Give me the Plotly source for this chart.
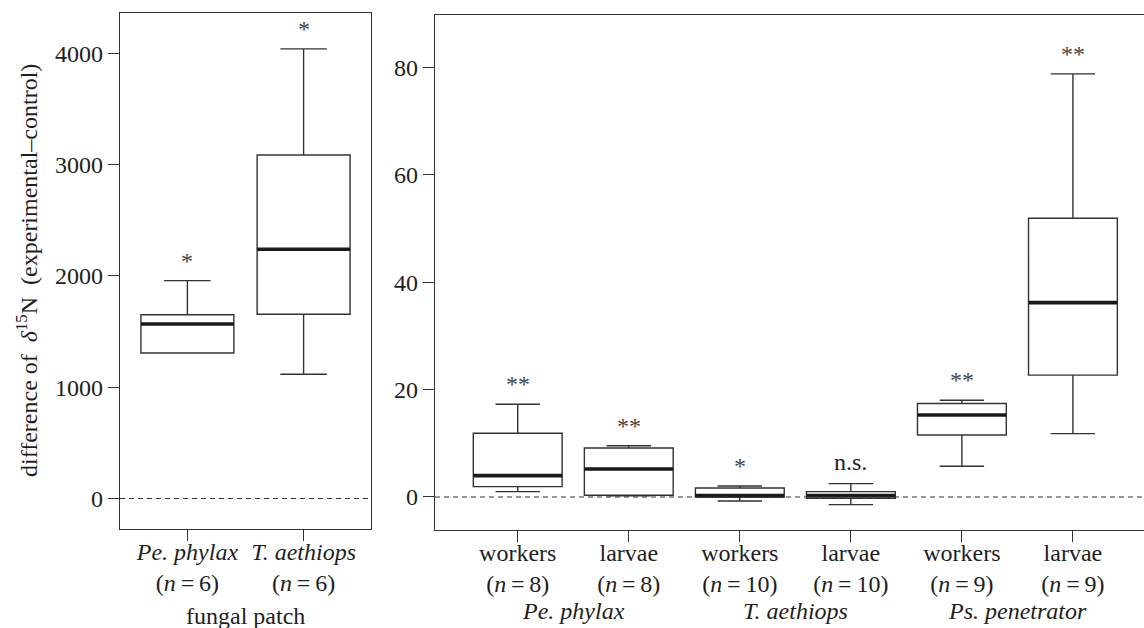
import plotly.graph_objects as go

# ---------------- data ----------------
fungal_species = ["Pe. phylax", "T. aethiops"]
fungal_n = [6, 6]
fungal_lower = [1307, 1116]
fungal_q1 = [1307, 1655]
fungal_median = [1568, 2239]
fungal_q3 = [1651, 3086]
fungal_upper = [1957, 4039]
fungal_sig = ["*", "*"]

ant_caste = ["workers", "larvae", "workers", "larvae", "workers", "larvae"]
ant_species = ["Pe. phylax", "T. aethiops", "Ps. penetrator"]
ant_n = [8, 8, 10, 10, 9, 9]
ant_lower = [0.99, 0.20, -0.74, -1.43, 5.71, 11.8]
ant_q1 = [1.92, 0.32, 0.00, -0.25, 11.55, 22.7]
ant_median = [3.97, 5.21, 0.25, 0.25, 15.27, 36.2]
ant_q3 = [11.86, 9.12, 1.68, 0.99, 17.40, 51.9]
ant_upper = [17.26, 9.55, 2.05, 2.48, 18.00, 78.8]
ant_sig = ["**", "**", "*", "n.s.", "**", "**"]

left_yticks = [0, 1000, 2000, 3000, 4000]
right_yticks = [0, 20, 40, 60, 80]

# ---------------- style ----------------
FONT = "Liberation Serif, Times New Roman, serif"
FS = 24
LINE = "#333333"
TXT = "#1e1e1e"
BOXW = 0.8
W, H = 1144, 628

fig = go.Figure()


def add_boxes(xref, yref, q1, med, q3, lo, hi):
    pos = list(range(1, len(q1) + 1))
    for i, p in enumerate(pos):
        fig.add_trace(go.Box(
            x=[p], q1=[q1[i]], median=[med[i]], q3=[q3[i]],
            lowerfence=[lo[i]], upperfence=[hi[i]],
            width=BOXW, whiskerwidth=0.5,
            fillcolor="white", line=dict(color=LINE, width=1.4),
            boxpoints=False, hoverinfo="skip", showlegend=False,
            xaxis=xref, yaxis=yref,
        ))
        # thick median bar
        fig.add_trace(go.Scatter(
            x=[p - BOXW / 2, p + BOXW / 2], y=[med[i], med[i]],
            mode="lines", line=dict(color="#1a1a1a", width=3.6),
            hoverinfo="skip", showlegend=False, xaxis=xref, yaxis=yref,
        ))


add_boxes("x", "y", fungal_q1, fungal_median, fungal_q3, fungal_lower, fungal_upper)
add_boxes("x2", "y2", ant_q1, ant_median, ant_q3, ant_lower, ant_upper)

# ---------------- axes ----------------
def px_x(a, b):
    return [a / W, min(b / W, 1.0)]


def px_y(top, bottom):
    return [1 - bottom / H, 1 - top / H]


axis_common = dict(
    showgrid=False, zeroline=False, showline=True, linecolor=LINE, linewidth=1.3,
    ticks="outside", ticklen=11, tickwidth=1.3, tickcolor=LINE, automargin=False,
    tickfont=dict(family=FONT, size=FS, color=TXT),
)

fungal_ticktext = [f"<i>{s}</i><br>(<i>n</i>\u2009=\u2009{n})" for s, n in zip(fungal_species, fungal_n)]
ant_ticktext = [f"{c}<br>(<i>n</i>\u2009=\u2009{n})" for c, n in zip(ant_caste, ant_n)]

fig.update_layout(
    xaxis=dict(domain=px_x(120, 371), range=[0.42, 2.58], ticklabelstandoff=-10,
               tickvals=[1, 2], ticktext=fungal_ticktext, mirror=True, anchor="y", **axis_common),
    yaxis=dict(domain=px_y(13.3, 529), range=[-274, 4359],
               tickvals=left_yticks, mirror=True, anchor="x", **axis_common),
    xaxis2=dict(domain=px_x(435, 1144), range=[0.255, 6.64], ticklabelstandoff=-10,
                tickvals=[1, 2, 3, 4, 5, 6], ticktext=ant_ticktext, mirror=True, anchor="y2", **axis_common),
    yaxis2=dict(domain=px_y(15.3, 530), range=[-6.15, 89.7],
                tickvals=right_yticks, mirror=False, anchor="x2", **axis_common),
    width=W, height=H,
    margin=dict(l=0, r=0, t=0, b=0, pad=0),
    paper_bgcolor="white", plot_bgcolor="white",
    font=dict(family=FONT, size=FS, color=TXT),
    showlegend=False,
)

# dashed zero reference lines
for xr, yr in [("x", "y"), ("x2", "y2")]:
    fig.add_shape(type="line", xref=f"{xr} domain", yref=yr, x0=0, x1=1, y0=0, y1=0,
                  line=dict(color=LINE, width=1.2, dash="5px,4px"))

# significance labels
for i, s in enumerate(fungal_sig):
    fig.add_annotation(x=i + 1, y=fungal_upper[i], xref="x", yref="y", text=s,
                       showarrow=False, yanchor="middle", yshift=20 if s.startswith("*") else 22,
                       font=dict(family=FONT, size=FS, color="#444"))
for i, s in enumerate(ant_sig):
    fig.add_annotation(x=i + 1, y=ant_upper[i], xref="x2", yref="y2", text=s,
                       showarrow=False, yanchor="middle", yshift=20 if s.startswith("*") else 22,
                       font=dict(family=FONT, size=FS, color="#444" if s.startswith("*") else TXT))

# group labels
fig.add_annotation(x=1.5, y=1 - 616 / H, xref="x", yref="paper", yanchor="middle", text="fungal patch",
                   showarrow=False, font=dict(family=FONT, size=FS, color=TXT))
for k, sp in enumerate(ant_species):
    fig.add_annotation(x=2 * k + 1.5, y=1 - 611 / H, xref="x2", yref="paper", yanchor="middle",
                       text=f"<i>{sp}</i>", showarrow=False, font=dict(family=FONT, size=FS, color=TXT))

# y axis title
fig.add_annotation(x=27 / W, y=1 - 271 / H, xref="paper", yref="paper", textangle=-90,
                   text="difference of\u00a0\u00a0<i>\u03b4</i><sup>15</sup>N\u00a0\u00a0(experimental\u2013control)",
                   showarrow=False, xanchor="center", yanchor="middle",
                   font=dict(family=FONT, size=FS, color=TXT))

fig.write_html("out.html", config={"displayModeBar": False},
               post_script="document.body.style.margin='0';document.body.style.overflow='hidden';")
